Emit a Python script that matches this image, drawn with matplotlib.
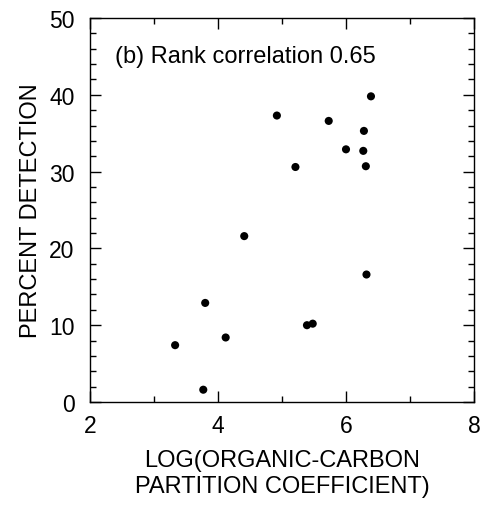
import matplotlib
matplotlib.use("Agg")
import matplotlib.pyplot as plt
from matplotlib.ticker import MultipleLocator

plt.rcParams['font.family'] = ['Liberation Sans', 'DejaVu Sans']

log_koc = [6.39, 4.92, 5.73, 6.28, 6.00, 6.27, 5.21, 6.31, 4.41,
           6.32, 3.80, 3.33, 4.12, 5.39, 5.48, 3.77]
pct_detection = [39.8, 37.3, 36.6, 35.3, 32.9, 32.7, 30.6, 30.7, 21.6,
                 16.6, 12.9, 7.4, 8.4, 10.0, 10.2, 1.6]
x_ticks = [2, 4, 6, 8]
y_ticks = [0, 10, 20, 30, 40, 50]
annotation = "(b) Rank correlation 0.65"
xlabel = "LOG(ORGANIC-CARBON\nPARTITION COEFFICIENT)"
ylabel = "PERCENT DETECTION"

fig = plt.figure(figsize=(4.87, 5.06), dpi=100)
ax = fig.add_axes([90/487, 1-403/506, (474-90)/487, (403-19)/506])
ax.scatter(log_koc, pct_detection, s=34, color='black', edgecolors='none', zorder=3)
ax.set_xlim(2, 8)
ax.set_ylim(0, 50)
ax.set_xticks(x_ticks)
ax.set_yticks(y_ticks)
ax.xaxis.set_minor_locator(MultipleLocator(1))
ax.yaxis.set_minor_locator(MultipleLocator(2))
ax.tick_params(which='both', direction='in', top=True, right=True, width=1.0, labelsize=16.5)
ax.tick_params(which='major', length=8)
ax.tick_params(which='minor', length=4.5)
ax.tick_params(axis='x', which='major', pad=9)
ax.tick_params(axis='y', which='major', pad=11)
for s in ax.spines.values():
    s.set_linewidth(1.0)
ax.text(2.39, 45.0, annotation, fontsize=17, va='center', ha='left')
ax.set_xlabel(xlabel, fontsize=17, linespacing=1.25, labelpad=8)
ax.set_ylabel(ylabel, fontsize=17, labelpad=5)
fig.savefig("out.png", dpi=100)
